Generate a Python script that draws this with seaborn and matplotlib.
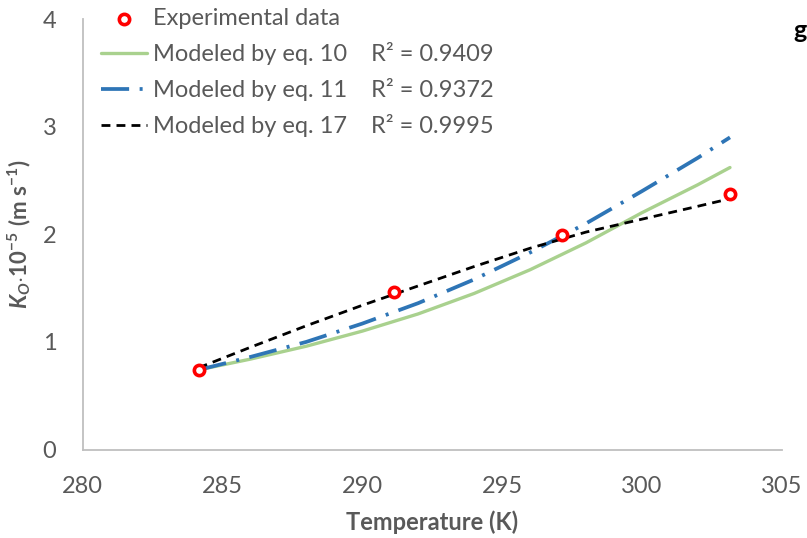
import matplotlib
matplotlib.use("Agg")
import matplotlib.pyplot as plt
import seaborn as sns
import pandas as pd

# ---- data ----
T_exp = [284.15, 291.15, 297.15, 303.15]
K_exp = [0.74, 1.46, 1.99, 2.37]

T_model = [284.15, 286, 288, 290, 292, 294, 296, 298, 300, 302, 303.15]
K_eq10 = [0.74, 0.84, 0.96, 1.10, 1.26, 1.45, 1.67, 1.92, 2.20, 2.46, 2.62]
K_eq11 = [0.74, 0.86, 1.00, 1.17, 1.36, 1.58, 1.83, 2.10, 2.40, 2.71, 2.90]
K_eq17 = [0.76, 0.95, 1.15, 1.34, 1.52, 1.70, 1.87, 2.02, 2.14, 2.26, 2.33]

labels = ["Experimental data",
          "Modeled by eq. 10    R² = 0.9409",
          "Modeled by eq. 11    R² = 0.9372",
          "Modeled by eq. 17    R² = 0.9995"]
x_ticks = [280, 285, 290, 295, 300, 305]
y_ticks = [0, 1, 2, 3, 4]

sns.set_style("white")
plt.rcParams["font.family"] = ["Lato", "DejaVu Sans"]
plt.rcParams["mathtext.fontset"] = "custom"
plt.rcParams["mathtext.rm"] = "Lato:bold"
plt.rcParams["mathtext.it"] = "Lato:bold:italic"
plt.rcParams["mathtext.bf"] = "Lato:bold"

GRAY = "#595959"
SPINE = "#bfbfbf"
FS = 17

fig = plt.figure(figsize=(8.07, 5.38), dpi=100)
ax = fig.add_axes([82.7 / 807, 1 - 449.5 / 538, (781.7 - 82.7) / 807, (449.5 - 19) / 538])

df = pd.DataFrame({"T": T_model, "eq10": K_eq10, "eq11": K_eq11, "eq17": K_eq17})

sns.lineplot(data=df, x="T", y="eq10", ax=ax, color="#a9d18e", lw=2.4,
             label=labels[1], zorder=2)
sns.lineplot(data=df, x="T", y="eq11", ax=ax, color="#2e75b6", lw=2.7,
             label=labels[2], zorder=3)
ax.lines[-1].set_linestyle((0, (7.5, 2.8, 0.8, 2.8)))
sns.lineplot(data=df, x="T", y="eq17", ax=ax, color="black", lw=2.0,
             label=labels[3], zorder=4)
ax.lines[-1].set_linestyle((0, (3.2, 2.2)))
sns.scatterplot(x=T_exp, y=K_exp, ax=ax, marker="o", s=55, facecolor="white",
                edgecolor="#ff0000", linewidth=2.6, label=labels[0], zorder=5)

ax.set_xlim(280, 305)
ax.set_ylim(0, 4)
ax.set_xticks(x_ticks)
ax.set_yticks(y_ticks)
ax.tick_params(axis="both", direction="in", length=7, width=1, color=SPINE,
               labelsize=FS, labelcolor=GRAY, pad=19)
for s in ["top", "right"]:
    ax.spines[s].set_visible(False)
for s in ["left", "bottom"]:
    ax.spines[s].set_color(SPINE)
    ax.spines[s].set_linewidth(1.3)

ax.set_xlabel("Temperature (K)", fontsize=FS, fontweight="bold", color=GRAY, labelpad=10)
ax.set_ylabel(r"$K_O{\cdot}10^{-5}\ (\mathrm{m\ s^{-1}})$", fontsize=16,
              color=GRAY, labelpad=7)

h, l = ax.get_legend_handles_labels()
order = [l.index(x) for x in labels]
leg = ax.legend([h[i] for i in order], [l[i] for i in order],
                loc="upper left", bbox_to_anchor=(101 / 807, 1 - 8 / 538),
                bbox_transform=fig.transFigure, frameon=False, fontsize=FS,
                borderpad=0, borderaxespad=0, handlelength=1.95,
                handletextpad=0.25, labelspacing=0.55)
for t in leg.get_texts():
    t.set_color(GRAY)

fig.text(793 / 807, 1 - 38 / 538, "g", fontsize=FS + 1, fontweight="bold",
         color="black", ha="left", va="baseline")

fig.savefig("out.png", dpi=100)
